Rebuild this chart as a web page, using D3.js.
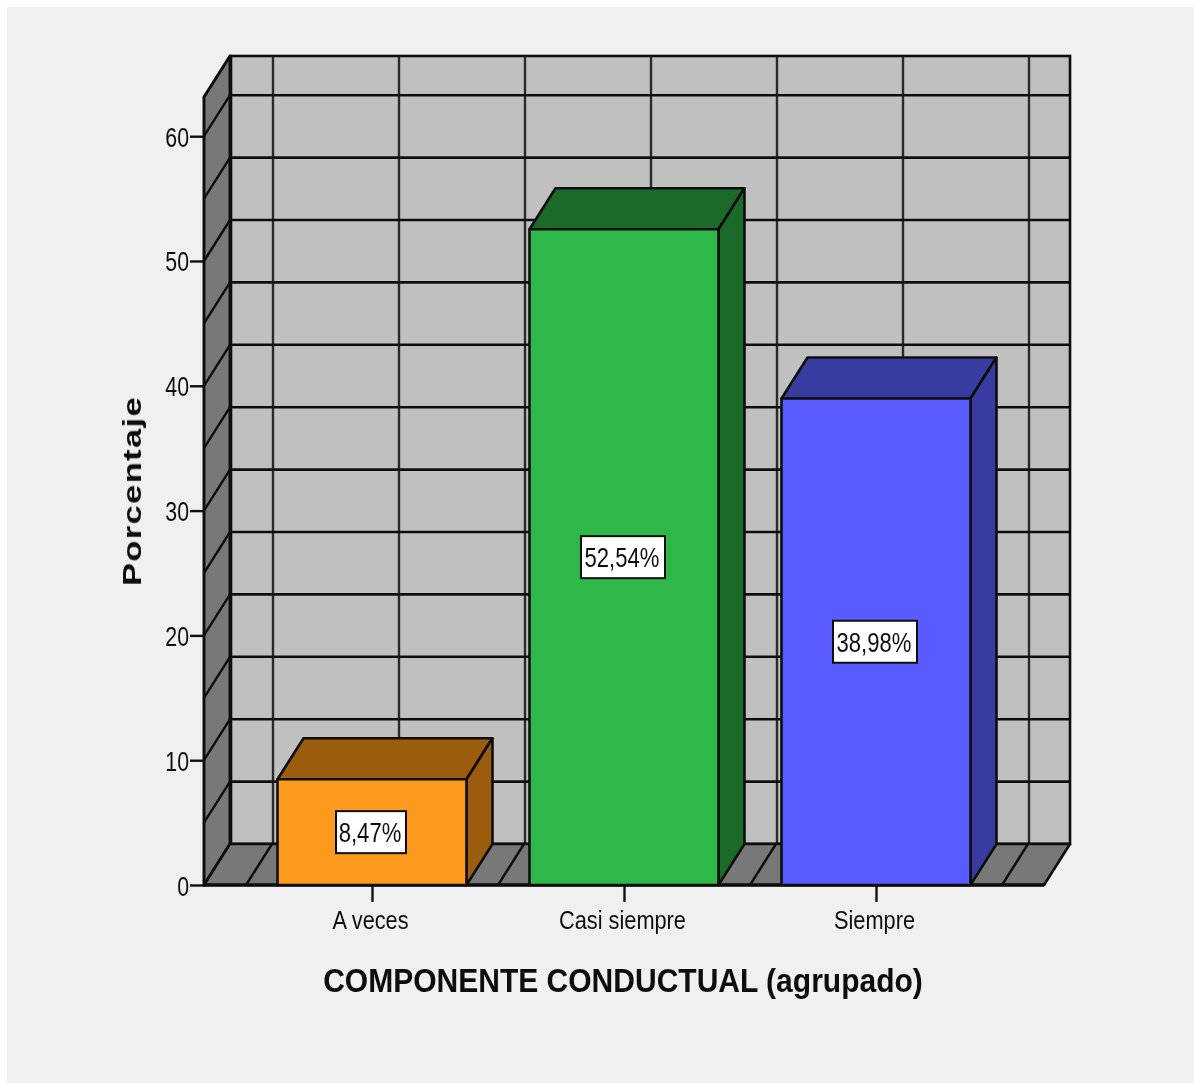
<!DOCTYPE html>
<html>
<head>
<meta charset="utf-8">
<script src="https://cdn.jsdelivr.net/npm/d3@7"></script>
<style>
  html, body { margin: 0; padding: 0; background: #fff; }
  svg { display: block; }
  text { font-family: "Liberation Sans", Arial, sans-serif; fill: #111; }
</style>
</head>
<body>
<div id="chart"></div>
<script>
const categories = ["A veces", "Casi siempre", "Siempre"];
const percentages = [8.47, 52.54, 38.98];
const valueLabels = ["8,47%", "52,54%", "38,98%"];
const frontColors = ["#fb9a1c", "#2eb84a", "#5a5cff"];
const darkColors = ["#9b5c10", "#1c6b2c", "#393a9f"];
const yTicks = [0, 10, 20, 30, 40, 50, 60];
const gridValues = [0, 5, 10, 15, 20, 25, 30, 35, 40, 45, 50, 55, 60];
const yMax = 63.14;

const width = 1194, height = 1085;
const depthX = 26, depthY = -41;
const barWidth = 189;
const line = "#101010";

const svg = d3.select("#chart").append("svg")
  .attr("width", width)
  .attr("height", height);

const defs = svg.append("defs");
defs.append("filter").attr("id", "soft")
  .append("feGaussianBlur").attr("stdDeviation", 0.7);

svg.append("rect")
  .attr("x", 7).attr("y", 7)
  .attr("width", width - 7).attr("height", height - 9)
  .attr("fill", "#f0f0f0");

const root = svg.append("g").attr("filter", "url(#soft)");

const x = d3.scalePoint().domain(categories).range([204, 1044]).padding(2 / 3);
const y = d3.scaleLinear().domain([0, yMax]).range([885, 97]);

// vertical grid sits on the ticks and halfway between them
const step = x.step();
const gridX = [];
categories.forEach(function(c, i) {
  gridX.push(x(c) - step / 2);
  gridX.push(x(c));
  if (i === categories.length - 1) gridX.push(x(c) + step / 2);
});

const xMin = x.range()[0], xMax = x.range()[1];

// back wall
root.append("rect")
  .attr("x", xMin + depthX)
  .attr("y", y(yMax) + depthY)
  .attr("width", xMax - xMin)
  .attr("height", y(0) - y(yMax))
  .attr("fill", "#c0c0c0");

root.selectAll(".hgrid")
  .data(gridValues)
  .join("line")
  .attr("x1", xMin + depthX)
  .attr("x2", xMax + depthX)
  .attr("y1", (d) => y(d) + depthY)
  .attr("y2", (d) => y(d) + depthY)
  .attr("stroke", line)
  .attr("stroke-width", 2.6);

root.selectAll(".vgrid")
  .data(gridX)
  .join("line")
  .attr("x1", (d) => d + depthX + 1)
  .attr("x2", (d) => d + depthX + 1)
  .attr("y1", y(0) + depthY)
  .attr("y2", y(yMax) + depthY)
  .attr("stroke", line)
  .attr("stroke-opacity", 0.85)
  .attr("stroke-width", 2.4);

root.append("rect")
  .attr("x", xMin + depthX + 1)
  .attr("y", y(yMax) + depthY)
  .attr("width", xMax - xMin - 1)
  .attr("height", y(0) - y(yMax))
  .attr("fill", "none")
  .attr("stroke", line)
  .attr("stroke-width", 2.6);

// left wall
const wallPoints = [
  [xMin, y(0)], [xMin + depthX, y(0) + depthY],
  [xMin + depthX, y(yMax) + depthY], [xMin, y(yMax)]
];
root.append("polygon")
  .attr("points", wallPoints.join(" "))
  .attr("fill", "#787878")
  .attr("stroke", line)
  .attr("stroke-width", 3)
  .attr("stroke-linejoin", "round");

root.selectAll(".wallgrid")
  .data(gridValues)
  .join("line")
  .attr("x1", xMin)
  .attr("x2", xMin + depthX)
  .attr("y1", (d) => y(d))
  .attr("y2", (d) => y(d) + depthY)
  .attr("stroke", line)
  .attr("stroke-width", 2.4);

// floor
const floorPoints = [
  [xMin, y(0)], [xMax, y(0)],
  [xMax + depthX, y(0) + depthY], [xMin + depthX, y(0) + depthY]
];
root.append("polygon")
  .attr("points", floorPoints.join(" "))
  .attr("fill", "#787878")
  .attr("stroke", line)
  .attr("stroke-width", 2.6)
  .attr("stroke-linejoin", "round");

root.selectAll(".floorgrid")
  .data(gridX)
  .join("line")
  .attr("x1", (d) => d)
  .attr("x2", (d) => d + depthX)
  .attr("y1", y(0))
  .attr("y2", y(0) + depthY)
  .attr("stroke", line)
  .attr("stroke-width", 2.4);

root.append("line")
  .attr("x1", xMin).attr("x2", xMax)
  .attr("y1", y(0)).attr("y2", y(0))
  .attr("stroke", line)
  .attr("stroke-width", 3.5);

// bars
const bars = root.selectAll(".bar")
  .data(categories)
  .join("g")
  .attr("class", "bar");

function barFace(points, fill) {
  return function(sel) {
    sel.append("polygon")
      .attr("points", (d, i) => points(d, i).join(" "))
      .attr("fill", (d, i) => fill[i])
      .attr("stroke", line)
      .attr("stroke-width", 2.6)
      .attr("stroke-linejoin", "round");
  };
}

bars.call(barFace(function(d, i) {
  const x0 = x(d) - barWidth / 2, x1 = x0 + barWidth, t = y(percentages[i]);
  return [[x0, t], [x1, t], [x1 + depthX, t + depthY], [x0 + depthX, t + depthY]];
}, darkColors));

bars.call(barFace(function(d, i) {
  const x1 = x(d) + barWidth / 2, t = y(percentages[i]);
  return [[x1, t], [x1 + depthX, t + depthY], [x1 + depthX, y(0) + depthY], [x1, y(0)]];
}, darkColors));

bars.call(barFace(function(d, i) {
  const x0 = x(d) - barWidth / 2, x1 = x0 + barWidth, t = y(percentages[i]);
  return [[x0, t], [x1, t], [x1, y(0)], [x0, y(0)]];
}, frontColors));

// value labels on the front faces
const boxes = root.selectAll(".valuebox")
  .data(categories)
  .join("g")
  .attr("transform", (d, i) => `translate(${x(d) - 1},${(y(percentages[i]) + y(0)) / 2})`);

boxes.append("rect")
  .attr("x", (d, i) => (valueLabels[i].length > 5 ? -42 : -35))
  .attr("width", (d, i) => (valueLabels[i].length > 5 ? 84 : 70))
  .attr("y", -21)
  .attr("height", 42)
  .attr("fill", "#fff")
  .attr("stroke", line)
  .attr("stroke-width", 2);

boxes.append("text")
  .attr("text-anchor", "middle")
  .attr("transform", "translate(-1,10) scale(0.85,1.04)")
  .attr("font-size", 26)
  .text((d, i) => valueLabels[i]);

// axes
const yAxis = root.append("g")
  .attr("transform", `translate(${xMin},0)`)
  .call(d3.axisLeft(y).tickValues(yTicks).tickSize(14).tickPadding(2).tickFormat(d3.format("d")));

const xAxis = root.append("g")
  .attr("transform", `translate(0,${y(0)})`)
  .call(d3.axisBottom(x).tickSize(17).tickPadding(0));

yAxis.select(".domain").remove();
xAxis.select(".domain").remove();
root.selectAll(".tick line").attr("stroke", line).attr("stroke-width", 2.4);

yAxis.selectAll(".tick text")
  .attr("font-size", 26)
  .attr("fill", "#222")
  .attr("dy", null)
  .attr("x", null)
  .attr("transform", "translate(-15,10) scale(0.82,1.04)");

xAxis.selectAll(".tick text")
  .attr("font-size", 25)
  .attr("fill", "#222")
  .attr("dy", null)
  .attr("y", null)
  .attr("transform", "translate(-2,44) scale(0.87,1.02)");

root.append("text")
  .attr("text-anchor", "middle")
  .attr("font-size", 33)
  .attr("font-weight", "bold")
  .attr("transform", "translate(623,992) scale(0.91,1)")
  .text("COMPONENTE CONDUCTUAL (agrupado)");

root.append("text")
  .attr("text-anchor", "middle")
  .attr("font-size", 26)
  .attr("font-weight", "bold")
  .attr("letter-spacing", 1)
  .attr("transform", "translate(141,491) rotate(-90) scale(1.33,1)")
  .text("Porcentaje");
</script>
</body>
</html>
